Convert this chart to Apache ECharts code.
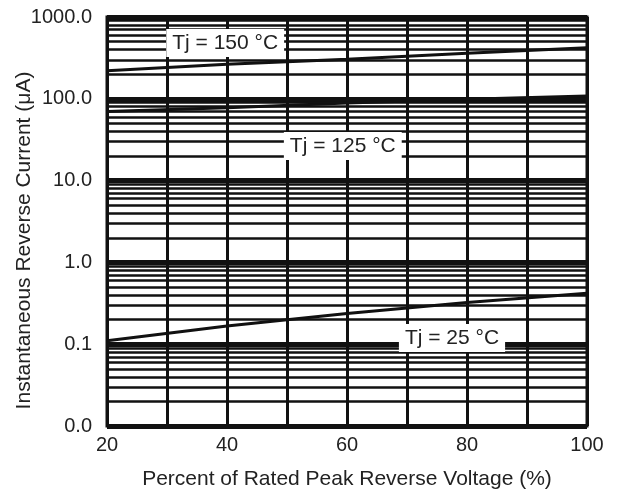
<!DOCTYPE html>
<html>
<head>
<meta charset="utf-8">
<script src="https://cdn.jsdelivr.net/npm/echarts@6/dist/echarts.min.js"></script>
<style>
  html, body { margin: 0; padding: 0; background: #fff; }
  #chart { width: 625px; height: 493px; }
</style>
</head>
<body>
<div id="chart"></div>
<script>
// percent of rated peak reverse voltage
const voltage = [20, 40, 60, 80, 100];
// reverse current (uA) per junction temperature
const tj150 = [220, 265, 305, 360, 420];
const tj125 = [70, 78, 89, 99, 108];
const tj25 = [0.11, 0.167, 0.238, 0.324, 0.42];

const seriesNames = ['Tj = 150 °C', 'Tj = 125 °C', 'Tj = 25 °C'];
// where each curve's tag sits (x %, y uA)
const tagX = [39.7, 59.3, 77.5];
const tagY = [480, 26.5, 0.119];

// log grid: decade lines come from the axis, 2..9 lines from markLine
const decades = [0.01, 0.1, 1, 10, 100];
const minorSteps = [2, 3, 4, 5, 6, 7, 8, 9];

const minorLines = [];
decades.forEach(d => minorSteps.forEach(m => minorLines.push({ yAxis: +(d * m).toPrecision(3) })));

const font = '"Liberation Sans", Arial, sans-serif';
const chart = echarts.init(document.getElementById('chart'));

const curve = (name, values, i) => ({
  name: name,
  type: 'line',
  data: voltage.map((v, k) => [v, values[k]]),
  symbol: 'none',
  z: 4,
  lineStyle: { color: '#111', width: 3 },
  markPoint: {
    symbol: 'rect',
    symbolSize: [1, 1],
    itemStyle: { color: 'rgba(0,0,0,0)' },
    z: 10,
    data: [{ coord: [tagX[i], tagY[i]] }],
    label: {
      show: true,
      position: 'inside',
      formatter: name,
      color: '#222',
      fontFamily: font,
      fontSize: 21,
      backgroundColor: '#fff',
      padding: [4, 6, 3, 6]
    }
  }
});

const option = {
  animation: false,
  grid: {
    left: 107, right: 38, top: 17, bottom: 67,
    outerBoundsMode: 'none',
    show: true, borderColor: '#111', borderWidth: 3
  },
  xAxis: {
    type: 'value',
    min: 20, max: 100, interval: 10,
    name: 'Percent of Rated Peak Reverse Voltage (%)',
    nameLocation: 'middle',
    nameGap: 43,
    nameMoveOverlap: false,
    nameTextStyle: { fontFamily: font, fontSize: 21, color: '#222' },
    axisLine: { show: false },
    axisTick: { show: false },
    axisLabel: {
      margin: 9,
      fontFamily: font, fontSize: 20, color: '#222',
      formatter: v => (v % 20 === 0 ? String(v) : '')
    },
    splitLine: { show: true, lineStyle: { color: '#111', width: 3 } }
  },
  yAxis: {
    type: 'log',
    logBase: 10,
    min: 0.01, max: 1000,
    name: 'Instantaneous Reverse Current (μA)',
    nameLocation: 'middle',
    nameGap: 72,
    nameMoveOverlap: false,
    nameTextStyle: { fontFamily: font, fontSize: 21, color: '#222', padding: [0, 38, 0, 0] },
    axisLine: { show: false },
    axisTick: { show: false },
    axisLabel: {
      margin: 15,
      fontFamily: font, fontSize: 20, color: '#222',
      formatter: v => v.toFixed(1)
    },
    splitLine: { show: true, lineStyle: { color: '#111', width: 5 } }
  },
  series: [
    {
      name: 'grid',
      type: 'line',
      data: [],
      silent: true,
      z: 1,
      markLine: {
        silent: true,
        symbol: 'none',
        animation: false,
        label: { show: false },
        lineStyle: { color: '#111', width: 2.5, type: 'solid' },
        data: minorLines
      }
    },
    curve(seriesNames[0], tj150, 0),
    curve(seriesNames[1], tj125, 1),
    curve(seriesNames[2], tj25, 2)
  ]
};

chart.setOption(option);
</script>
</body>
</html>
